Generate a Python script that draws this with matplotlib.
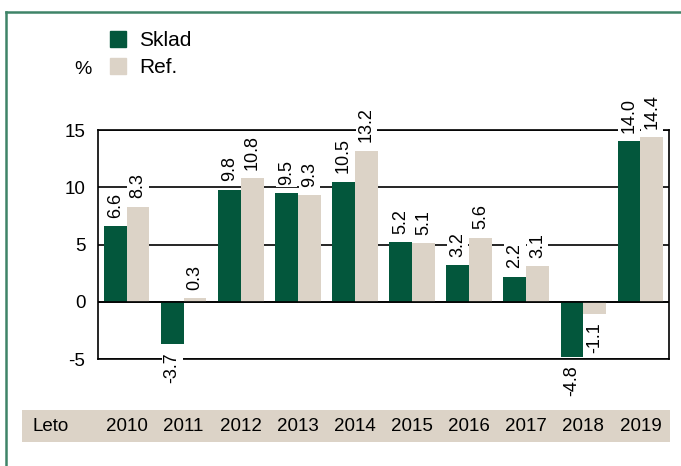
import numpy as np
import matplotlib.pyplot as plt
from matplotlib.patches import Rectangle
from matplotlib.lines import Line2D
import matplotlib.transforms as mtransforms

plt.rcParams['font.family'] = ['Liberation Sans', 'DejaVu Sans']
plt.rcParams['axes.unicode_minus'] = False

years = ['2010', '2011', '2012', '2013', '2014', '2015', '2016', '2017', '2018', '2019']
sklad = [6.6, -3.7, 9.8, 9.5, 10.5, 5.2, 3.2, 2.2, -4.8, 14.0]
ref = [8.3, 0.3, 10.8, 9.3, 13.2, 5.1, 5.6, 3.1, -1.1, 14.4]

green = '#03573c'
beige = '#dcd3c7'
frame_col = '#3f8468'

fig = plt.figure(figsize=(6.81, 4.66), dpi=100)
ax = fig.add_axes([0.1439, 0.2296, 0.8385, 0.4914])

x = np.arange(len(years))
w = 0.4
ax.bar(x - w / 2, sklad, w, color=green, zorder=2)
ax.bar(x + w / 2, ref, w, color=beige, zorder=2)
ax.axhline(0, color='black', lw=1.2, zorder=3)

ax.set_xlim(-0.5, len(years) - 0.5)
ax.set_ylim(-5, 15)
ax.set_yticks([-5, 0, 5, 10, 15])
ax.yaxis.grid(True, color='black', lw=1.2, zorder=0)
ax.set_axisbelow(True)
ax.tick_params(axis='y', length=0, pad=9, labelsize=13.5)
ax.set_xticks([])
for s in ax.spines.values():
    s.set_linewidth(1.2)

lbl_box = dict(facecolor='white', edgecolor='none', pad=1.5)
for xs, vals in ((x - w / 2, sklad), (x + w / 2, ref)):
    for xi, v in zip(xs, vals):
        off = 6 if v >= 0 else -6
        ax.annotate(f'{v:.1f}', (xi, v), xytext=(0, off), textcoords='offset points',
                    rotation=90, ha='center', va='bottom' if v >= 0 else 'top',
                    fontsize=13, bbox=lbl_box, zorder=4, annotation_clip=False)

# year band at the bottom
fig.patches.append(Rectangle((0.0323, 0.0515), 0.9515, 0.0687, transform=fig.transFigure,
                             facecolor=beige, edgecolor='none', zorder=0))
fig.text(0.047, 0.0858, 'Leto', fontsize=13.5, va='center', ha='left')
trans = mtransforms.blended_transform_factory(ax.transData, fig.transFigure)
for xi, yr in zip(x, years):
    fig.text(xi, 0.0858, yr, transform=trans, fontsize=13.5, ha='center', va='center')

# outer frame (only top and left visible)
fig.add_artist(Line2D([0.009, 0.009], [0, 0.974], color=frame_col, lw=1.8, transform=fig.transFigure))
fig.add_artist(Line2D([0.009, 1.0], [0.974, 0.974], color=frame_col, lw=1.8, transform=fig.transFigure))

handles = [Rectangle((0, 0), 1, 1, color=green), Rectangle((0, 0), 1, 1, color=beige)]
fig.legend(handles, ['Sklad', 'Ref.'], loc='upper left', bbox_to_anchor=(0.161, 0.933),
           frameon=False, fontsize=15, handlelength=0.8, handleheight=0.8,
           handletextpad=0.6, labelspacing=0.35, borderaxespad=0, borderpad=0)
fig.text(0.122, 0.85, '%', fontsize=14, ha='center', va='center')

fig.savefig('out.png', dpi=100)
